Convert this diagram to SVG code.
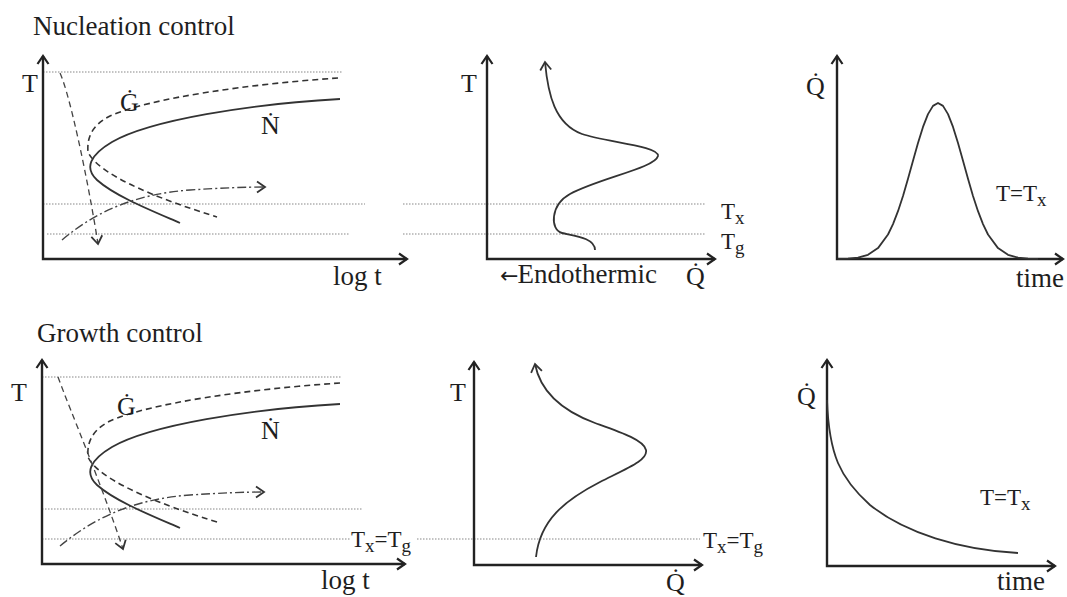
<svg xmlns="http://www.w3.org/2000/svg" width="1067" height="597" viewBox="0 0 1067 597">
<defs>
<style>
text{font-family:"Liberation Serif","Times New Roman",serif;fill:#1e1e1e}
.title{font-size:27px}
.lbl{font-size:26px}
.ax{font-size:27px}
.sm{font-size:23px}
.sub{font-size:19px}
.arr{font-family:"DejaVu Sans",sans-serif;font-size:22px}
.axis{fill:none;stroke:#222;stroke-width:2.4}
.dot{fill:none;stroke:#888;stroke-width:1.2;stroke-dasharray:1.5 1.5}
.solid{fill:none;stroke:#333;stroke-width:1.8}
.dash{fill:none;stroke:#333;stroke-width:1.6;stroke-dasharray:6 4}
.cool{fill:none;stroke:#444;stroke-width:1.3;stroke-dasharray:6 4}
.heat{fill:none;stroke:#444;stroke-width:1.4;stroke-dasharray:9 3 2 3}
</style>
<marker id="ah" markerUnits="userSpaceOnUse" viewBox="-10 -7 12 14" markerWidth="12" markerHeight="14" refX="0" refY="0" orient="auto-start-reverse">
<path d="M-8,-5.5 L0,0 L-8,5.5" fill="none" stroke="#222" stroke-width="2.2"/>
</marker>
<marker id="ahs" markerUnits="userSpaceOnUse" viewBox="-10 -7 12 14" markerWidth="12" markerHeight="14" refX="0" refY="0" orient="auto">
<path d="M-8,-5.5 L0,0 L-8,5.5" fill="none" stroke="#333" stroke-width="1.8"/>
</marker>
</defs>

<!-- Top left: Nucleation control TTT -->
<g id="nuc-ttt">
<text class="title" x="33" y="35">Nucleation control</text>
<path class="dot" d="M43,72 H342 M43,204 H365 M47,234 H350"/>
<path class="axis" d="M43,56 L43,259 L407,259" marker-start="url(#ah)" marker-end="url(#ah)"/>
<text class="lbl" x="22" y="92">T</text>
<text class="ax" x="333" y="285">log t</text>
<path class="dash" d="M338,78 C250,84 150,98 110,116 C90,126 87,140 88,152 C95,168 130,190 217,217"/>
<path class="solid" d="M340,99 C250,104 150,120 112,142 C90,155 84,168 97,180 C115,196 150,210 180,223"/>
<path class="cool" d="M60,73 C70,95 88,180 98,244" marker-end="url(#ahs)"/>
<path class="heat" d="M62,240 C95,212 135,194 190,190 C220,188 245,187 265,187" marker-end="url(#ahs)"/>
<text class="lbl" x="120" y="111">Ġ</text>
<text class="lbl" x="261" y="134">Ṅ</text>
</g>

<!-- Top middle: DSC heating trace -->
<g id="nuc-dsc">
<path class="dot" d="M403,204 H705 M403,234 H705"/>
<path class="axis" d="M487,56 L487,259 L715,259" marker-start="url(#ah)" marker-end="url(#ah)"/>
<text class="lbl" x="461" y="92">T</text>
<path class="solid" d="M595,250 C595,238 575,236 562,233 C550,230 550,205 570,194 C600,178 655,168 658,156 C660,146 605,142 582,134 C555,124 548,95 545,62" marker-end="url(#ahs)"/>
<text x="500" y="283"><tspan class="arr">←</tspan><tspan class="ax" dx="-1">Endothermic</tspan></text>
<text class="lbl" x="686" y="285">Q̇</text>
<text class="sm" x="721" y="219">T<tspan class="sub" dy="5">x</tspan></text>
<text class="sm" x="721" y="249">T<tspan class="sub" dy="5">g</tspan></text>
</g>

<!-- Top right: isothermal bell -->
<g id="nuc-iso">
<path class="axis" d="M837,56 L837,259 L1063,259" marker-start="url(#ah)" marker-end="url(#ah)"/>
<text class="lbl" x="806" y="95">Q̇</text>
<polyline class="solid" stroke-linejoin="round" points="838,258.9 848,258.6 858,257.6 868,254.8 878,248.1 888,234.5 893,224.1 898,211.2 903,196 908,178.8 913,160.8 918,143 923,126.9 928,114.1 933,105.9 938,103 943,105.9 948,114.1 953,126.9 958,143 963,160.8 968,178.8 973,196 978,211.2 983,224.1 988,234.5 998,248.1 1008,254.8 1018,257.6 1028,258.6 1038,258.9"/>
<text class="sm" x="996" y="201">T=T<tspan class="sub" dy="5">x</tspan></text>
<text class="ax" x="1016" y="287">time</text>
</g>

<!-- Bottom left: Growth control TTT -->
<g id="gro-ttt">
<text class="title" x="37" y="342">Growth control</text>
<path class="dot" d="M42,377 H342 M42,509 H363 M42,539 H350"/>
<path class="axis" d="M42,360 L42,564 L405,564" marker-start="url(#ah)" marker-end="url(#ah)"/>
<text class="lbl" x="11" y="401">T</text>
<text class="ax" x="321" y="589">log t</text>
<g transform="translate(0,305)">
<path class="dash" d="M340,78 C250,84 150,98 110,116 C90,126 87,140 88,152 C95,168 130,190 217,217"/>
<path class="solid" d="M340,99 C250,104 150,120 112,142 C90,155 84,168 97,180 C115,196 150,210 180,223"/>
<path class="heat" d="M60,241 C95,212 135,194 190,190 C220,188 245,187 264,187" marker-end="url(#ahs)"/>
</g>
<path class="cool" d="M58,377 C70,410 100,480 123,549" marker-end="url(#ahs)"/>
<text class="lbl" x="117" y="415">Ġ</text>
<text class="lbl" x="261" y="439">Ṅ</text>
<text class="sm" x="351" y="547">T<tspan class="sub" dy="5">x</tspan><tspan dy="-5">=T</tspan><tspan class="sub" dy="5">g</tspan></text>
</g>

<!-- Bottom middle: DSC heating trace -->
<g id="gro-dsc">
<path class="dot" d="M417,539 H700"/>
<path class="axis" d="M474,362 L474,565 L702,565" marker-start="url(#ah)" marker-end="url(#ah)"/>
<text class="lbl" x="450" y="401">T</text>
<path class="solid" d="M536,557 C540,520 565,500 600,482 C630,467 648,460 646,450 C644,440 620,432 595,423 C560,410 540,390 535,364" marker-end="url(#ahs)"/>
<text class="lbl" x="666" y="591">Q̇</text>
<text class="sm" x="703" y="548">T<tspan class="sub" dy="5">x</tspan><tspan dy="-5">=T</tspan><tspan class="sub" dy="5">g</tspan></text>
</g>

<!-- Bottom right: isothermal decay -->
<g id="gro-iso">
<path class="axis" d="M827,360 L827,566 L1055,566" marker-start="url(#ah)" marker-end="url(#ah)"/>
<text class="lbl" x="797" y="405">Q̇</text>
<path class="solid" d="M827,400 C829,455 840,478 870,505 C905,533 960,550 1018,553"/>
<text class="sm" x="980" y="505">T=T<tspan class="sub" dy="5">x</tspan></text>
<text class="ax" x="997" y="590">time</text>
</g>
</svg>
